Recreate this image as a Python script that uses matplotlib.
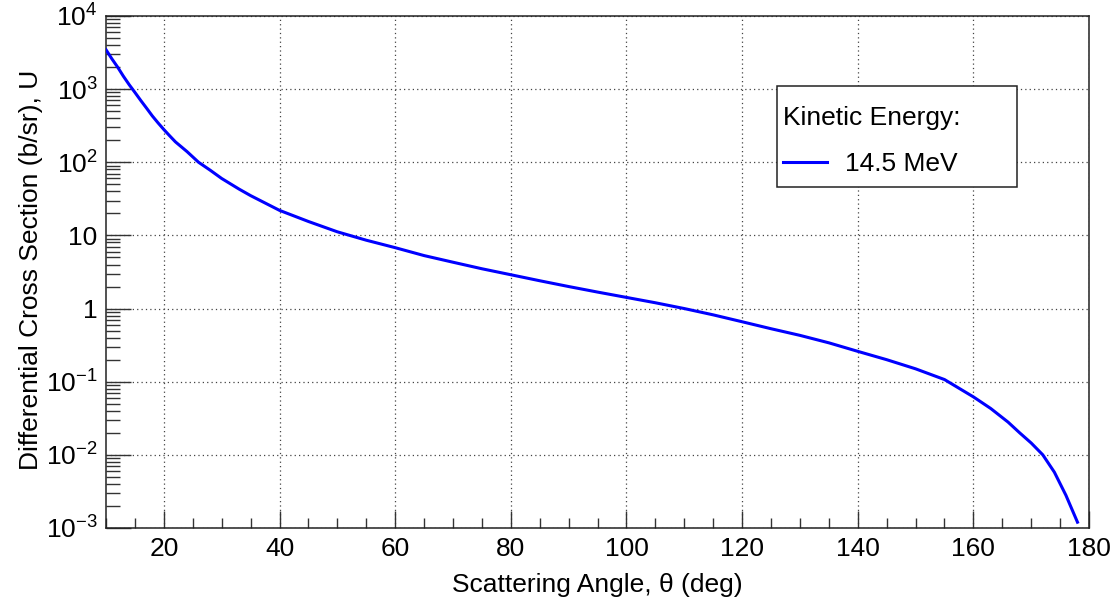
import matplotlib
matplotlib.use("Agg")
import matplotlib.pyplot as plt
from matplotlib.patches import Rectangle
from matplotlib.ticker import FixedLocator, LogLocator, MultipleLocator, NullFormatter

# scattering angle (deg) and differential cross section (b/sr)
angle = [10, 11, 12, 13, 14, 15, 16, 17, 18, 19, 20, 21, 22, 24, 26, 28, 30, 33, 35,
         40, 45, 50, 55, 60, 65, 70, 75, 80, 85, 90, 95, 100, 105, 110, 115, 120,
         125, 130, 135, 140, 145, 150, 155, 160, 163, 166, 168, 170, 172, 174, 176, 178]
cross_section = [3450, 2600, 2000, 1500, 1150, 900, 700, 550, 430, 345, 280, 230, 190,
                 140, 100, 78, 60, 43, 35, 22, 15.5, 11.2, 8.6, 6.8, 5.3, 4.3, 3.5, 2.9,
                 2.4, 2.0, 1.68, 1.42, 1.2, 1.0, 0.82, 0.66, 0.53, 0.43, 0.34, 0.26,
                 0.2, 0.15, 0.107, 0.062, 0.043, 0.028, 0.02, 0.0145, 0.01, 0.0058,
                 0.0028, 0.0012]

y_ticks = [1e-3, 1e-2, 1e-1, 1, 10, 1e2, 1e3, 1e4]
y_tick_labels = [r"$\mathregular{10^{-3}}$", r"$\mathregular{10^{-2}}$",
                 r"$\mathregular{10^{-1}}$", "1", "10", r"$\mathregular{10^{2}}$",
                 r"$\mathregular{10^{3}}$", r"$\mathregular{10^{4}}$"]
x_ticks = [20, 40, 60, 80, 100, 120, 140, 160, 180]
energy_label = "14.5 MeV"

plt.rcParams["font.family"] = ["Liberation Sans", "DejaVu Sans"]
plt.rcParams["mathtext.fontset"] = "custom"
plt.rcParams["mathtext.rm"] = "Liberation Sans"

fig = plt.figure(figsize=(11.14, 6.01), dpi=100)
ax = fig.add_axes([0.0952, 0.1215, 0.8824, 0.8519])

ax.plot(angle, cross_section, color="#0000ff", linewidth=2.2, label=energy_label, zorder=3)

ax.set_yscale("log")
ax.set_xlim(10, 180)
ax.set_ylim(1e-3, 1e4)

ax.xaxis.set_major_locator(FixedLocator(x_ticks))
ax.xaxis.set_minor_locator(MultipleLocator(5))
ax.set_xticklabels([str(v) for v in x_ticks])
ax.yaxis.set_major_locator(FixedLocator(y_ticks))
ax.set_yticklabels(y_tick_labels)
ax.yaxis.set_minor_locator(LogLocator(base=10, subs=range(2, 10), numticks=20))
ax.yaxis.set_minor_formatter(NullFormatter())

ax.tick_params(axis="both", which="both", direction="in", top=False, right=False,
               labelsize=19, color="#333333", width=1.0)
ax.tick_params(axis="y", which="major", length=18, pad=6)
ax.tick_params(axis="y", which="minor", length=10)
ax.tick_params(axis="x", which="major", length=12, pad=6.5)
ax.tick_params(axis="x", which="minor", length=7)

ax.grid(True, which="major", color="#444444", linestyle=(0, (1, 2.5)), linewidth=0.9)
for s in ax.spines.values():
    s.set_linewidth(1.1)
    s.set_color("#222222")

ax.set_xlabel("Scattering Angle, \u03b8 (deg)", fontsize=19)
ax.set_ylabel("Differential Cross Section (b/sr), U", fontsize=19)
ax.xaxis.set_label_coords(0.5, -0.088)
ax.yaxis.set_label_coords(-0.064, 0.504)

# legend box (ROOT style, wide right margin)
box = Rectangle((0.683, 0.666), 0.244, 0.197, transform=ax.transAxes,
                facecolor="white", edgecolor="#222222", linewidth=1.1, zorder=4.5)
ax.add_patch(box)
leg = ax.legend(loc="upper left", bbox_to_anchor=(0.689, 0.825), title="Kinetic Energy:",
                alignment="left", fontsize=19, title_fontsize=19, frameon=False,
                borderpad=0, handlelength=1.65, handletextpad=0.7, borderaxespad=0)
leg.set_zorder(5)
leg._legend_box.sep = 16

fig.savefig("out.png", dpi=100)
